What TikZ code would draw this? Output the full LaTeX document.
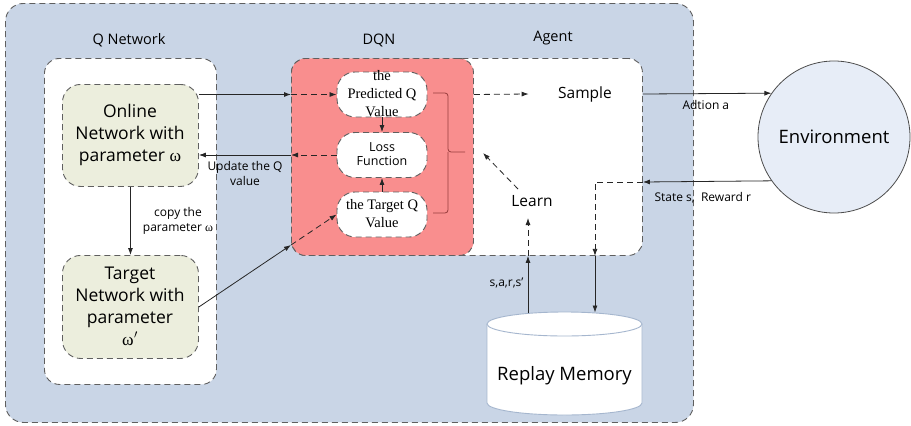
\documentclass[tikz,border=0pt]{standalone}
\usepackage{fontspec}
\setmainfont{Open Sans}
\newfontfamily\serifq{Liberation Serif}
\usetikzlibrary{arrows.meta,calc}
\definecolor{outerblue}{RGB}{201,213,230}
\definecolor{dqnred}{RGB}{249,142,142}
\definecolor{netgreen}{RGB}{236,238,221}
\definecolor{envblue}{RGB}{231,237,247}
\definecolor{dashgray}{RGB}{95,95,95}
\definecolor{bracecol}{RGB}{150,60,60}
\definecolor{cylline}{RGB}{165,182,206}
\begin{document}
\begin{tikzpicture}[x=1pt,y=-1pt,
  dsh/.style={dash pattern=on 6pt off 4pt},
  box/.style={draw=dashgray,dsh,line width=0.9pt,inner sep=0pt,anchor=north west},
  pill/.style={draw=dashgray,dsh,line width=0.9pt,fill=white,rounded corners=18pt,
    minimum width=90pt,minimum height=45pt,inner sep=0pt},
  arr/.style={-{Latex[length=7pt,width=5pt]},line width=0.8pt,draw=black!85},
  darr/.style={arr,dsh},
  big/.style={font=\fontsize{17.5}{22}\selectfont,align=center},
  ttl/.style={font=\fontsize{14.5}{17}\selectfont},
  small/.style={font=\fontsize{12}{15}\selectfont,align=center},
  qtxt/.style={font=\serifq\fontsize{14.5}{18}\selectfont,align=center},
  bracket/.style={draw=bracecol,line width=0.8pt,rounded corners=3pt},
]
\useasboundingbox (0,0) rectangle (911,426);
% containers
\node[box,fill=outerblue,rounded corners=18pt,minimum width=688pt,minimum height=419pt] (outer) at (5,3) {};
\node[box,fill=white,rounded corners=15pt,minimum width=172pt,minimum height=326pt] (qnet) at (44,58) {};
\node[box,fill=white,rounded corners=14pt,minimum width=351pt,minimum height=197pt] (agent) at (291,58) {};
\node[box,fill=dqnred,rounded corners=14pt,minimum width=182pt,minimum height=197pt] (dqn) at (291,58) {};
% titles
\node[ttl] (qnettl) at (129,40) {Q Network};
\node[ttl] (dqntl) at (379,40) {DQN};
\node[ttl] (agenttl) at (553,38) {Agent};
% networks
\node[box,fill=netgreen,rounded corners=18pt,minimum width=136pt,minimum height=102pt] (online) at (62,84) {};
\node[big] (onlinetxt) at (130,135) {Online\\Network with\\parameter {\serifq ω}};
\node[box,fill=netgreen,rounded corners=18pt,minimum width=136pt,minimum height=103pt] (target) at (62,255) {};
\node[big] (targettxt) at (130,306) {Target\\Network with\\parameter\\{\serifq ω\kern0.5pt$'$}};
% DQN pills
\node[pill] (pred) at (382,94.5) {};
\node[qtxt] (predtxt) at (382,93.5) {the\\Predicted Q\\Value};
\node[pill] (loss) at (382,155) {};
\node[font=\fontsize{12.5}{14.5}\selectfont,align=center] (losstxt) at (382,154) {Loss\\Function};
\node[pill] (targq) at (382,214.5) {};
\node[qtxt] (targqtxt) at (382,214) {the Target Q\\Value};
\draw[bracket] (433,93) -- (448,93) -- (448,152) -- (465,152);
\draw[bracket] (433,213) -- (448,213) -- (448,152);
% agent texts
\node[font=\fontsize{15.5}{18}\selectfont] (sample) at (585,94) {Sample};
\node[font=\fontsize{15.5}{18}\selectfont] (learn) at (532,201) {Learn};
% environment
\node[circle,draw=black!70,line width=0.8pt,fill=envblue,minimum size=152pt,inner sep=0pt,
  font=\fontsize{18.5}{22}\selectfont] (env) at (834,137) {Environment};
% replay memory cylinder
\fill[white] (487,324) -- (487,403) arc[start angle=180,end angle=360,x radius=77.5pt,y radius=12pt] -- (642,324) -- cycle;
\draw[cylline,line width=0.9pt] (487,324) -- (487,403) arc[start angle=180,end angle=360,x radius=77.5pt,y radius=12pt] -- (642,324);
\draw[cylline,line width=0.9pt,fill=white] (564.5,324) ellipse[x radius=77.5pt,y radius=12pt];
\node[font=\fontsize{18.5}{22}\selectfont] (rm) at (564.5,376) {Replay Memory};
\coordinate (rmup) at (528,313);
\coordinate (rmdown) at (595,312.5);
% labels
\node[small] (updlbl) at (245,173) {Update the Q\\value};
\node[small] (copylbl) at (178,221) {copy the\\parameter {\serifq ω}};
\node[small,anchor=west] (actlbl) at (679,105) {Adtion a};
\node[small,anchor=west] (statelbl) at (651,198) {State s,\ \ Reward r};
\node[small,anchor=east] (sarslbl) at (527,283) {s,a,r,s'};
% connectors
\coordinate (predin) at (dqn.west |- pred);
\draw[arr] (online.east |- pred) -- (predin);
\draw[darr] (predin) -- (pred.west);
\coordinate (lossout) at (dqn.west |- loss);
\draw[darr] (loss.west) -- (lossout);
\draw[arr] (lossout) -- (online.east |- loss);
\draw[arr] (pred.south) -- (loss.north);
\draw[arr] (targq.north) -- (loss.south);
\draw[arr] (online.south) -- (target.north);
\coordinate (targin) at (291,245);
\draw[arr] (target.east) -- (targin);
\draw[darr] (targin) -- (targq.west);
\coordinate (dqnout) at (dqn.east |- pred);
\draw[darr] (dqnout) -- ($(sample.west)+(-26,0)$);
\draw[arr] (sample -| agent.east) -- (env.145.5);
\coordinate (statein) at (agent.east |- 0,182);
\draw[arr] (env.215.8) -- (statein);
\coordinate (statecorner) at (rmdown |- statein);
\coordinate (statedown) at (rmdown |- agent.south);
\draw[darr] (statein) -- (statecorner) -- (statedown);
\draw[arr] (statedown) -- (rmdown);
\coordinate (learnup) at (rmup |- agent.south);
\draw[arr] (rmup) -- (learnup);
\draw[darr] (learnup) -- (rmup |- 0,218);
\coordinate (learnin) at (483,153);
\draw[darr] (518,189) -- (learnin);
\end{tikzpicture}
\end{document}
